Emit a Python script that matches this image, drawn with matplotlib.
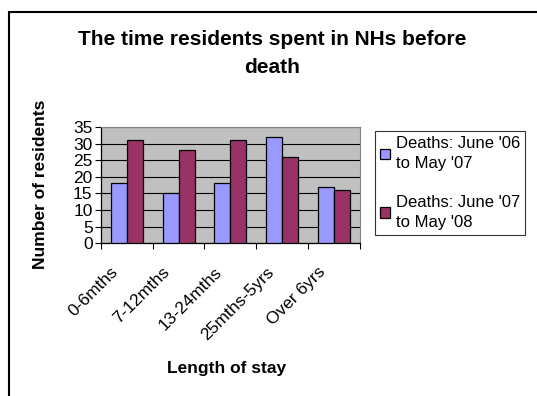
import numpy as np
import matplotlib.pyplot as plt
import matplotlib.transforms as mtransforms
from matplotlib.patches import Rectangle

plt.rcParams['font.family'] = ['Liberation Sans', 'DejaVu Sans']

# length-of-stay groups and deaths per year
stay = ['0-6mths', '7-12mths', '13-24mths', '25mths-5yrs', 'Over 6yrs']
deaths_0607 = [18, 15, 18, 32, 17]
deaths_0708 = [31, 28, 31, 26, 16]
labels = ["Deaths: June '06\nto May '07", "Deaths: June '07\nto May '08"]

fig = plt.figure(figsize=(5.37, 3.96), dpi=100)
ax = fig.add_axes([0.188, 0.386, 0.482, 0.293])

x = np.arange(len(stay))
w = 0.31
ax.bar(x - w / 2, deaths_0607, w, color='#9999ff', edgecolor='black', linewidth=0.9,
       label=labels[0], zorder=3)
ax.bar(x + w / 2, deaths_0708, w, color='#993366', edgecolor='black', linewidth=0.9,
       label=labels[1], zorder=3)

ax.set_facecolor('#c0c0c0')
ax.set_xlim(-0.5, len(stay) - 0.5)
ax.set_ylim(0, 35)
ax.set_yticks(range(0, 36, 5))
ax.yaxis.grid(True, color='black', linewidth=0.8, zorder=1)
for s in ['top', 'right']:
    ax.spines[s].set_color('#808080')
ax.spines['left'].set_linewidth(0.9)
ax.spines['bottom'].set_linewidth(0.9)

# category separators on the x axis, labels in between
ax.set_xticks(np.arange(-0.5, len(stay), 1.0))
ax.set_xticklabels([])
ax.set_xticks(x, minor=True)
ax.set_xticklabels(stay, minor=True, rotation=45, ha='right', va='center',
                   rotation_mode='anchor', fontsize=12.5)
ax.tick_params(axis='x', which='minor', length=0, pad=19)
ax.tick_params(axis='x', which='major', length=4, direction='out')
ax.tick_params(axis='y', length=4, direction='out', labelsize=12.5, pad=2)
# nudge the slanted labels left so they end just before the group centre
shift = mtransforms.ScaledTranslation(-11 / 100, 0, fig.dpi_scale_trans)
for t in ax.get_xticklabels(minor=True):
    t.set_transform(t.get_transform() + shift)

fig.text(0.507, 0.866, 'The time residents spent in NHs before\ndeath', ha='center',
         va='center', fontsize=15, fontweight='bold', linespacing=1.6)
fig.text(0.075, 0.535, 'Number of residents', rotation=90, ha='center', va='center',
         fontsize=12.5, fontweight='bold')
fig.text(0.421, 0.07, 'Length of stay', ha='center', va='center',
         fontsize=12.5, fontweight='bold')

leg = fig.legend(loc='upper left', bbox_to_anchor=(0.698, 0.669), frameon=True,
                 fancybox=False, fontsize=12, handlelength=0.6, handleheight=0.6,
                 handletextpad=0.35, borderpad=0.3, labelspacing=1.4, borderaxespad=0)
for t in leg.get_texts():
    t.set_linespacing(1.45)
leg.get_frame().set_edgecolor('black')
leg.get_frame().set_linewidth(0.8)

# outer chart border
fig.patches.append(Rectangle((0.016, -0.1), 1.1, 0.07 + 1.0, transform=fig.transFigure,
                             fill=False, edgecolor='black', linewidth=1.5))

fig.savefig('out.png', dpi=100)
